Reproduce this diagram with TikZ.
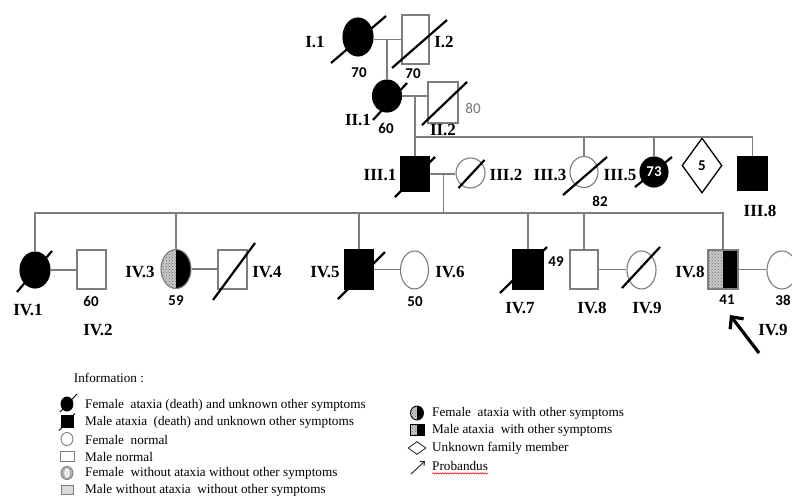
\documentclass[tikz,border=0pt]{standalone}
\usepackage{fontspec}
\setmainfont{Liberation Serif}
\newfontfamily\numfont{Carlito}
\usetikzlibrary{shapes.geometric,arrows.meta,patterns,decorations.pathmorphing}
\definecolor{lin}{RGB}{125,125,125}
\begin{document}
\begin{tikzpicture}[x=1pt,y=-1pt,
  conn/.style={lin, line width=1.2pt},
  fem/.style={ellipse, draw=lin, line width=1.1pt, inner sep=0pt, fill=white},
  mal/.style={rectangle, draw=lin, line width=1.1pt, inner sep=0pt, fill=white},
  aff/.style={fill=black, draw=black},
  halfaff/.style={path picture={
    \fill[black!22] (path picture bounding box.north west) rectangle (path picture bounding box.south);
    \fill[pattern=crosshatch dots, pattern color=black!55] (path picture bounding box.north west) rectangle (path picture bounding box.south);
    \fill[black] (path picture bounding box.north) rectangle (path picture bounding box.south east);}},
  slashln/.style={black, line width=2.2pt},
  lab/.style={font=\fontsize{17}{17}\selectfont\bfseries, inner sep=0pt},
  num/.style={font=\fontsize{15}{15}\selectfont\numfont\bfseries, inner sep=0pt},
  leg/.style={font=\fontsize{13.2}{13.2}\selectfont, anchor=west, inner sep=0pt},
  legsym/.style={line width=0.9pt}
]
\useasboundingbox[fill=white] (0,0) rectangle (792,496);

% ---------- Generation I ----------
\node[fem, aff, minimum width=30, minimum height=38] (I1) at (358,37) {};
\node[mal, minimum width=27, minimum height=49] (I2) at (415.5,39.5) {};
\draw[conn] (I1.east |- I2.west) -- (I2.west);
\draw[slashln] ([shift={(-27,26)}]I1.center) -- ([shift={(28,-21)}]I1.center);
\draw[slashln] ([shift={(-23.5,28.5)}]I2.center) -- ([shift={(31.5,-19.5)}]I2.center);
\node[lab] (tI1) at (315,42) {I.1};
\node[lab] (tI2) at (444,42) {I.2};
\node[num] (aI1) at (359,73) {70};
\node[num] (aI2) at (413,74) {70};

% ---------- Generation II ----------
\node[fem, aff, minimum width=29, minimum height=32] (II1) at (387,96) {};
\node[mal, minimum width=30, minimum height=41] (II2) at (443,102.5) {};
\draw[conn] (II1.north |- I2.west) -- (II1.north);
\draw[conn] (II1.east) -- (II1.east -| II2.west);
\draw[slashln] ([shift={(-14,24)}]II1.center) -- ([shift={(20,-13)}]II1.center);
\draw[slashln] ([shift={(-21,22.5)}]II2.center) -- ([shift={(24,-20.5)}]II2.center);
\node[lab] (tII1) at (358,120) {II.1};
\node[lab] (tII2) at (443,130) {II.2};
\node[num] (aII1) at (386,128) {60};
\node[font=\fontsize{15}{15}\selectfont\numfont, text=black!55, inner sep=0pt] (aII2) at (473,108) {80};

% ---------- Generation III ----------
\node[mal, aff, minimum width=28, minimum height=34] (III1) at (415,174) {};
\node[fem, minimum width=29, minimum height=30] (III2) at (470.5,173) {};
\node[fem, minimum width=28, minimum height=31] (III3) at (584,172) {};
\node[fem, aff, minimum width=28, minimum height=30] (III5) at (654,172) {};
\node[diamond, draw=black, line width=1.3pt, inner sep=0pt, minimum width=40, minimum height=55, fill=white] (dia) at (702,165.5) {};
\node[mal, aff, minimum width=29, minimum height=33] (III8) at (752.5,173.5) {};

\draw[conn] (III1.north |- II1.east) -- (III1.north);
\path (III1.north |- 0,137) coordinate (s3);
\draw[conn] (s3) -- (s3 -| III8.north) -- (III8.north);
\draw[conn] (s3 -| III3.north) -- (III3.north);
\draw[conn] (s3 -| III5.north) -- (III5.north);
\draw[conn] (s3 -| dia.north) -- (dia.north);
\draw[conn] (III1.east) -- (III1.east -| III2.west);

\draw[slashln] ([shift={(-20,23)}]III1.center) -- ([shift={(20,-17)}]III1.center);
\draw[slashln] ([shift={(-12,15)}]III2.center) -- ([shift={(14,-13)}]III2.center);
\draw[slashln] ([shift={(-21,23)}]III3.center) -- ([shift={(23,-15)}]III3.center);
\draw[slashln] ([shift={(-19,15)}]III5.center) -- ([shift={(18,-15)}]III5.center);

\node[num, text=white] (aIII5) at (III5.center) {73};
\node[num] (ndia) at (dia.center) {5};
\node[lab] (tIII1) at (380,175) {III.1};
\node[lab] (tIII2) at (506,175) {III.2};
\node[lab] (tIII3) at (550,175) {III.3};
\node[lab] (tIII5) at (620,175) {III.5};
\node[num] (aIII3) at (600,201) {82};
\node[lab] (tIII8) at (760,211) {III.8};

% ---------- Generation IV ----------
\node[fem, aff, minimum width=30, minimum height=36] (IV1) at (35,270) {};
\node[mal, minimum width=29, minimum height=39] (IV2) at (91.5,269.5) {};
\node[fem, halfaff, minimum width=30, minimum height=39] (IV3) at (176,269) {};
\node[mal, minimum width=29, minimum height=39] (IV4) at (232.5,269.5) {};
\node[mal, aff, minimum width=28, minimum height=39] (IV5) at (359,269.5) {};
\node[fem, minimum width=28, minimum height=38] (IV6) at (414.5,270) {};
\node[mal, aff, minimum width=30, minimum height=39] (IV7) at (528,269.5) {};
\node[mal, minimum width=28, minimum height=39] (IV8) at (584,269.5) {};
\node[fem, minimum width=29, minimum height=38] (IV9) at (641.5,270) {};
\node[mal, halfaff, minimum width=30, minimum height=39] (IV8b) at (723,269.5) {};
\node[fem, minimum width=30, minimum height=38] (IV9b) at (782,270) {};

\path (III1.east) -- (III2.west) coordinate[pos=0.55] (m3);
\path (m3 |- 0,213) coordinate (s4);
\draw[conn] (m3) -- (s4);
\draw[conn] (IV1.north) -- (IV1.north |- s4) -- (IV8b.north |- s4) -- (IV8b.north);
\draw[conn] (IV3.north |- s4) -- (IV3.north);
\draw[conn] (IV5.north |- s4) -- (IV5.north);
\draw[conn] (IV7.north |- s4) -- (IV7.north);
\draw[conn] (IV8.north |- s4) -- (IV8.north);

\draw[conn] (IV1.east) -- (IV1.east -| IV2.west);
\draw[conn] (IV3.east) -- (IV3.east -| IV4.west);
\draw[conn] (IV5.east) -- (IV5.east -| IV6.west);
\draw[conn] (IV8.east) -- (IV8.east -| IV9.west);
\draw[conn] (IV8b.east) -- (IV8b.east -| IV9b.west);

\draw[slashln] ([shift={(-18,22)}]IV1.center) -- ([shift={(17,-19)}]IV1.center);
\draw[slashln] ([shift={(-19.5,30.5)}]IV4.center) -- ([shift={(22.5,-26.5)}]IV4.center);
\draw[slashln] ([shift={(-21,29.5)}]IV5.center) -- ([shift={(26,-17.5)}]IV5.center);
\draw[slashln] ([shift={(-28,23.5)}]IV7.center) -- ([shift={(19,-22.5)}]IV7.center);
\draw[slashln] ([shift={(-19.5,18)}]IV9.center) -- ([shift={(18.5,-23)}]IV9.center);

\node[lab] (tIV1) at (28,310) {IV.1};
\node[num] (aIV2) at (91,301) {60};
\node[lab] (tIV2) at (98,330) {IV.2};
\node[lab] (tIV3) at (140,272) {IV.3};
\node[num] (aIV3) at (176,301) {59};
\node[lab] (tIV4) at (267,272) {IV.4};
\node[lab] (tIV5) at (325,272) {IV.5};
\node[lab] (tIV6) at (450,272) {IV.6};
\node[num] (aIV6) at (415,302) {50};
\node[lab] (tIV7) at (520,308) {IV.7};
\node[num] (aIV7) at (556,262) {49};
\node[lab] (tIV8) at (592,308) {IV.8};
\node[lab] (tIV9) at (647,308) {IV.9};
\node[lab] (tIV8b) at (690,272) {IV.8};
\node[num] (aIV8b) at (727,300) {41};
\node[num] (aIV9b) at (783,300) {38};
\node[lab] (tIV9b) at (773,330) {IV.9};

\coordinate (ar0) at (759,353);
\coordinate (ar1) at (730,315);
\draw[black, line width=3.2pt, -{Straight Barb[length=9pt,width=17pt]}] (ar0) -- (ar1);

% ---------- Legend ----------
\node[font=\fontsize{13.2}{13.2}\selectfont, inner sep=0pt] (info) at (109,378) {Information :};

\node[fem, aff, legsym, minimum width=12, minimum height=14] (L1) at (67,404) {};
\draw[black, line width=0.9pt] ([shift={(-7,8)}]L1.center) -- ([shift={(10,-10)}]L1.center);
\node[mal, aff, legsym, minimum width=12, minimum height=12] (L2) at (67,421.5) {};
\draw[black, line width=0.9pt] ([shift={(-8,9)}]L2.center) -- ([shift={(8,-8)}]L2.center);
\node[fem, legsym, minimum width=12, minimum height=13] (L3) at (67,439) {};
\node[mal, legsym, minimum width=14, minimum height=10] (L4) at (67,456) {};
\node[fem, legsym, fill=black!30, minimum width=12, minimum height=13] (L5) at (67,473) {};
\node[fem, draw=white, fill=black!12, minimum width=4, minimum height=8, inner sep=0pt] (L5i) at (67,473) {};
\node[mal, legsym, fill=black!15, minimum width=12, minimum height=9] (L6) at (67,489.5) {};

\node[leg] (T1) at (85,405) {Female\ \ ataxia (death) and unknown other symptoms};
\node[leg] (T2) at (85,422) {Male ataxia\ \ (death) and unknown other symptoms};
\node[leg] (T3) at (85,439.5) {Female\ \ normal};
\node[leg] (T4) at (85,456.5) {Male normal};
\node[leg] (T5) at (85,473.5) {Female\ \ without ataxia without other symptoms};
\node[leg] (T6) at (85,490) {Male without ataxia\ \ without other symptoms};

\node[fem, legsym, halfaff, draw=black, minimum width=13, minimum height=14] (R1) at (417,413) {};
\node[mal, legsym, halfaff, draw=black, minimum width=14, minimum height=11] (R2) at (417,430) {};
\node[diamond, draw=black!80, line width=0.9pt, inner sep=0pt, minimum width=18, minimum height=13] (R3) at (417,448) {};
\coordinate (pa0) at (411,474);
\coordinate (pa1) at (425,461);
\draw[black!85, line width=0.9pt, -{Straight Barb[length=3.5pt,width=6pt]}] (pa0) -- (pa1);

\node[leg] (U1) at (432,413) {Female\ \ ataxia with other symptoms};
\node[leg] (U2) at (432,430) {Male ataxia\ \ with other symptoms};
\node[leg] (U3) at (432,448) {Unknown family member};
\node[leg] (U4) at (432,466) {Probandus};
\draw[red, line width=0.5pt, decorate, decoration={snake, amplitude=0.7pt, segment length=2.5pt}]
  ([yshift=-2.5pt]U4.south west) -- ([yshift=-2.5pt]U4.south east);
\end{tikzpicture}
\end{document}
